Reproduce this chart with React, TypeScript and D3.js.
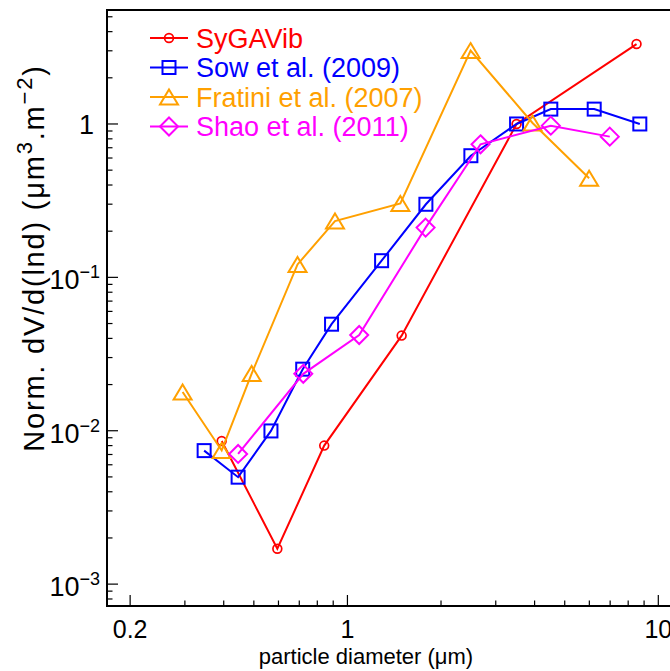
import React from "react";
import * as d3 from "d3";

const seriesNames = ["SyGAVib", "Sow et al. (2009)", "Fratini et al. (2007)", "Shao et al. (2011)"];
const seriesColors = ["#ff0000", "#0000ff", "#ffa000", "#ff00ff"];
const seriesMarkers = ["circle", "square", "triangle", "diamond"];

const syX = [0.394, 0.595, 0.842, 1.494, 3.5, 8.51];
const syY = [0.00858, 0.0017, 0.008, 0.0417, 1.0, 3.32];

const sowX = [0.346, 0.445, 0.5675, 0.718, 0.889, 1.288, 1.788, 2.495, 3.5, 4.51, 6.22, 8.72];
const sowY = [0.00742, 0.00498, 0.00997, 0.0252, 0.0495, 0.1284, 0.2996, 0.621, 1.0, 1.25, 1.25, 1.0];

const frX = [0.295, 0.394, 0.492, 0.691, 0.912, 1.48, 2.49, 3.94, 5.99];
const frY = [0.0179, 0.00744, 0.0236, 0.1214, 0.233, 0.303, 3.01, 1.015, 0.443];

const shX = [0.445, 0.721, 1.091, 1.784, 2.68, 4.51, 6.98];
const shY = [0.00706, 0.0235, 0.0421, 0.211, 0.737, 0.975, 0.827];

const xMajorTicks = [0.2, 1, 10];
const xMajorLabels = ["0.2", "1", "10"];
const yMajorTicks = [0.001, 0.01, 0.1, 1];
const yMajorLabels = [["10", "−3"], ["10", "−2"], ["10", "−1"], ["1", ""]];

const W = 670;
const H = 671;
const left = 107, right = 676, top = 10, bottom = 606;

const xScale = d3.scaleLog().domain([0.1685, 11.4]).range([left, right]);
const yScale = d3.scaleLog().domain([7.2e-4, 5.535]).range([bottom, top]);

function minorTicks(lo: number, hi: number) {
  const out: number[] = [];
  for (let e = -4; e <= 2; e++) {
    for (let m = 1; m <= 9; m++) {
      const v = m * Math.pow(10, e);
      if (v >= lo && v <= hi) out.push(v);
    }
  }
  return out;
}

function Marker({ kind, x, y, color }: { kind: string; x: number; y: number; color: string }) {
  const sw = 2;
  if (kind === "circle") return <circle cx={x} cy={y} r={4.4} fill="none" stroke={color} strokeWidth={1.7} />;
  if (kind === "square") return <rect x={x - 6.5} y={y - 6.5} width={13} height={13} fill="none" stroke={color} strokeWidth={sw} />;
  if (kind === "triangle")
    return <path d={`M${x},${y - 7.5}L${x + 9},${y + 7.5}L${x - 9},${y + 7.5}Z`} fill="none" stroke={color} strokeWidth={sw} strokeLinejoin="miter" />;
  return <path d={`M${x},${y - 9}L${x + 9},${y}L${x},${y + 9}L${x - 9},${y}Z`} fill="none" stroke={color} strokeWidth={sw} />;
}

export default function App() {
  const series = [
    { xs: syX, ys: syY },
    { xs: sowX, ys: sowY },
    { xs: frX, ys: frY },
    { xs: shX, ys: shY },
  ];
  const line = d3
    .line<[number, number]>()
    .x((d) => xScale(d[0]))
    .y((d) => yScale(d[1]));

  const xMinor = minorTicks(0.17, 11.4).filter((v) => !xMajorTicks.includes(v));
  const yMinor = minorTicks(7.2e-4, 5.535).filter((v) => !yMajorTicks.includes(v));
  const font = "'Liberation Sans', Arial, Helvetica, sans-serif";

  return (
    <svg width={W} height={H} style={{ position: "absolute", left: 0, top: 0, background: "#fff" }} fontFamily={font}>
      <rect x={0} y={0} width={W} height={H} fill="#fff" />
      {/* series */}
      {series.map((s, i) => {
        const pts = s.xs.map((x, j) => [x, s.ys[j]] as [number, number]);
        return (
          <g key={i}>
            <path d={line(pts) || ""} fill="none" stroke={seriesColors[i]} strokeWidth={2} />
            {pts.map((p, j) => (
              <Marker key={j} kind={seriesMarkers[i]} x={xScale(p[0])} y={yScale(p[1])} color={seriesColors[i]} />
            ))}
          </g>
        );
      })}
      {/* frame */}
      <path d={`M${right},${top}H${left}V${bottom}H${right}`} fill="none" stroke="#000" strokeWidth={2} />
      {/* x ticks */}
      {xMajorTicks.map((v, i) => (
        <g key={"xm" + i}>
          <line x1={xScale(v)} x2={xScale(v)} y1={bottom} y2={bottom - 11} stroke="#000" strokeWidth={1.2} />
          <text x={xScale(v)} y={638} textAnchor="middle" fontSize={25} fill="#000">
            {xMajorLabels[i]}
          </text>
        </g>
      ))}
      {xMinor.map((v, i) => (
        <line key={"xn" + i} x1={xScale(v)} x2={xScale(v)} y1={bottom} y2={bottom - 5.5} stroke="#000" strokeWidth={1.2} />
      ))}
      {/* y ticks */}
      {yMajorTicks.map((v, i) => (
        <g key={"ym" + i}>
          <line x1={left} x2={left + 11} y1={yScale(v)} y2={yScale(v)} stroke="#000" strokeWidth={1.2} />
          {yMajorLabels[i][1] ? (
            <text x={100} y={yScale(v) + 12} textAnchor="end" fontSize={27} fill="#000">
              {yMajorLabels[i][0]}
              <tspan fontSize={18} dy={-11}>{yMajorLabels[i][1]}</tspan>
            </text>
          ) : (
            <text x={94} y={yScale(v) + 10} textAnchor="end" fontSize={27} fill="#000">
              {yMajorLabels[i][0]}
            </text>
          )}
        </g>
      ))}
      {yMinor.map((v, i) => (
        <line key={"yn" + i} x1={left} x2={left + 5.5} y1={yScale(v)} y2={yScale(v)} stroke="#000" strokeWidth={1.2} />
      ))}
      {/* axis labels */}
      <text x={366} y={664} textAnchor="middle" fontSize={22} fill="#000">
        particle diameter (μm)
      </text>
      <text transform="translate(44,258) rotate(-90)" textAnchor="middle" fontSize={29} letterSpacing={1.8} fill="#000">
        Norm. dV/d(lnd) (μm<tspan fontSize={22} dy={-12}>3</tspan>
        <tspan dy={12}>.m</tspan>
        <tspan fontSize={22} dy={-12}>−2</tspan>
        <tspan dy={12}>)</tspan>
      </text>
      {/* legend */}
      {seriesNames.map((n, i) => {
        const yy = 38 + i * 29.5;
        return (
          <g key={"lg" + i}>
            <line x1={150} x2={188} y1={yy} y2={yy} stroke={seriesColors[i]} strokeWidth={2} />
            <Marker kind={seriesMarkers[i]} x={169} y={yy} color={seriesColors[i]} />
            <text x={196} y={yy + 9.5} fontSize={27} fill={seriesColors[i]}>
              {n}
            </text>
          </g>
        );
      })}
    </svg>
  );
}
